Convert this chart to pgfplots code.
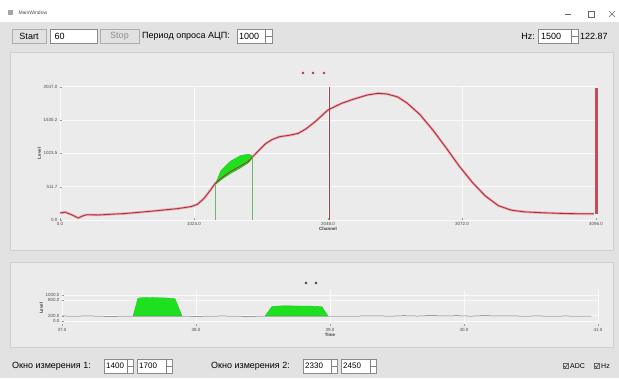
\documentclass[border=0pt]{standalone}
\usepackage{pgfplots}
\pgfplotsset{compat=1.18}
\usepackage{fontspec}
\setmainfont{Liberation Sans}
\definecolor{winbg}{HTML}{E2E2E2}
\definecolor{panelbg}{HTML}{EBEBEB}
\definecolor{panelbd}{HTML}{CFCFCF}
\definecolor{gridc}{HTML}{FAFAFA}
\definecolor{curvered}{HTML}{A82A38}
\definecolor{curvepink}{HTML}{EBA5AE}
\definecolor{markred}{HTML}{B03A46}
\definecolor{bargreen}{HTML}{1FE01F}
\definecolor{basegray}{HTML}{66707A}
\definecolor{btnbg}{HTML}{E1E1E1}
\definecolor{btnbd}{HTML}{ADADAD}
\definecolor{fieldbd}{HTML}{8A8A8A}
\newcommand{\ui}{\fontsize{9}{10}\selectfont}
\begin{document}
\begin{tikzpicture}[x=1pt,y=1pt]
\useasboundingbox (0,0) rectangle (619,378);
\fill[winbg] (0,0) rectangle (619,378);
% title bar
\fill[white] (0,356) rectangle (619,378);
\fill[gray!70] (8,363) rectangle (13,368);
\node[anchor=west,font=\fontsize{5}{6}\selectfont,text=black!70] at (15,365.5) {MainWindow};
\draw[black!60,line width=0.5] (565,364) -- (571,364);
\draw[black!60,line width=0.5] (588,361) rectangle (594,367);
\draw[black!60,line width=0.5] (609,361) -- (615,367) (609,367) -- (615,361);
% toolbar
\fill[btnbg] (12,335) rectangle (46,349);
\draw[btnbd,line width=0.5] (12,335) rectangle (46,349);
\node[font=\ui] at (29,342) {Start};
\fill[white] (50,335) rectangle (97,349);
\draw[fieldbd,line width=0.5] (50,335) rectangle (97,349);
\node[anchor=west,font=\ui] at (51,342) {60};
\fill[btnbg] (100,335) rectangle (139,349);
\draw[btnbd,line width=0.5] (100,335) rectangle (139,349);
\node[font=\ui,text=black!45] at (119.5,342) {Stop};
\node[anchor=west,font=\ui,inner sep=1pt] at (141,342) {Период опроса АЦП:};
\fill[white] (237,335) rectangle (272,349);
\draw[fieldbd,line width=0.5] (237,335) rectangle (272,349);
\node[anchor=west,font=\ui,inner sep=1pt] at (238,342) {1000};
\draw[black!50,line width=0.4] (265,335) -- (265,349) (265,342) -- (272,342);
\node[anchor=east,font=\ui,inner sep=1pt] at (536,342) {Hz:};
\fill[white] (538,335) rectangle (578,349);
\draw[fieldbd,line width=0.5] (538,335) rectangle (578,349);
\node[anchor=west,font=\ui,inner sep=1pt] at (540,342) {1500};
\draw[black!50,line width=0.4] (571,335) -- (571,349) (571,342) -- (578,342);
\node[anchor=west,font=\ui,inner sep=1pt] at (579,342) {122.87};
% panels
\fill[panelbg] (10,128) rectangle (613,326);
\draw[panelbd,line width=0.5] (10,128) rectangle (613,326);
\fill[panelbg] (10,31) rectangle (613,116);
\draw[panelbd,line width=0.5] (10,31) rectangle (613,116);
% bottom controls
\node[anchor=west,font=\ui,inner sep=1pt] at (11,12) {Окно измерения 1:};
\fill[white] (104,5) rectangle (133,19);
\draw[fieldbd,line width=0.5] (104,5) rectangle (133,19);
\node[anchor=west,font=\fontsize{8}{9}\selectfont,inner sep=1pt] at (105,12) {1400};
\draw[black!50,line width=0.4] (127,5) -- (127,19) (127,12) -- (133,12);
\fill[white] (137,5) rectangle (172,19);
\draw[fieldbd,line width=0.5] (137,5) rectangle (172,19);
\node[anchor=west,font=\fontsize{8}{9}\selectfont,inner sep=1pt] at (138,12) {1700};
\draw[black!50,line width=0.4] (166,5) -- (166,19) (166,12) -- (172,12);
\node[anchor=west,font=\ui,inner sep=1pt] at (210,12) {Окно измерения 2:};
\fill[white] (303,5) rectangle (337,19);
\draw[fieldbd,line width=0.5] (303,5) rectangle (337,19);
\node[anchor=west,font=\fontsize{8}{9}\selectfont,inner sep=1pt] at (304,12) {2330};
\draw[black!50,line width=0.4] (331,5) -- (331,19) (331,12) -- (337,12);
\fill[white] (341,5) rectangle (376,19);
\draw[fieldbd,line width=0.5] (341,5) rectangle (376,19);
\node[anchor=west,font=\fontsize{8}{9}\selectfont,inner sep=1pt] at (342,12) {2450};
\draw[black!50,line width=0.4] (370,5) -- (370,19) (370,12) -- (376,12);
\draw[black!60,line width=0.4] (563,9.5) rectangle (568,14.5);
\draw[black!80,line width=0.5] (564,12) -- (565.5,10.5) -- (567.5,13.8);
\node[anchor=west,font=\fontsize{7}{8}\selectfont,inner sep=1pt] at (569,12) {ADC};
\draw[black!60,line width=0.4] (594,9.5) rectangle (599,14.5);
\draw[black!80,line width=0.5] (595,12) -- (596.5,10.5) -- (598.5,13.8);
\node[anchor=west,font=\fontsize{7}{8}\selectfont,inner sep=1pt] at (600,12) {Hz};
% dots
\foreach \xx in {303,313,324} \fill[markred] (\xx,305) circle (1.4);
\foreach \xx in {306,316} \fill[black!75] (\xx,95) circle (1.3);
% ---------- top axis ----------
\begin{axis}[at={(60pt,158pt)},anchor=south west,scale only axis,
  width=536pt,height=133.3pt,
  xmin=0,xmax=4096,ymin=0,ymax=2047,clip=false,
  axis line style={draw=none},
  axis background/.style={fill=panelbg},
  grid=major,grid style={gridc,line width=0.9pt},
  xtick pos=bottom,ytick pos=left,
  major tick length=1.5pt,tick style={black!40,line width=0.3pt},
  xtick={0,1024,2048,3072,4096},
  xticklabels={0.0,1024.0,2048.0,3072.0,4096.0},
  ytick={0,511.75,1023.5,1535.25,2047},
  yticklabels={0.0,511.7,1023.5,1535.2,2047.0},
  /pgf/number format/assume math mode=true,
  ticklabel style={font=\fontsize{4.5}{5}\selectfont,text=black!70},
  xticklabel style={yshift=1pt},
  yticklabel style={xshift=1pt},
  xlabel={Channel},ylabel={Level},
  label style={font=\fontsize{4.5}{5}\selectfont\bfseries,text=black!75},
  xlabel style={yshift=5pt},
  ylabel style={yshift=-4pt},
]
\addplot[curvepink,line width=2.4pt,line join=round] coordinates {
(0,107) (40,120) (90,80) (140,30) (170,60) (200,80) (300,78) (500,100) (700,135) (900,175) (1000,205) (1050,240) (1100,330) (1150,460) (1185,560) (1230,640) (1300,740) (1380,830) (1440,900) (1467,960) (1520,1070) (1570,1170) (1620,1235) (1680,1280) (1750,1300) (1820,1330) (1880,1400) (1950,1510) (2048,1690) (2150,1790) (2250,1860) (2350,1920) (2430,1945) (2500,1935) (2580,1890) (2650,1800) (2750,1620) (2850,1380) (2950,1110) (3050,830) (3150,580) (3250,370) (3350,220) (3450,150) (3550,125) (3700,110) (3850,100) (4000,95) (4080,95)};
\addplot[fill=bargreen,draw=bargreen!80!black,line width=0.3pt] coordinates {
(1185,540) (1230,760) (1300,900) (1380,990) (1440,1010) (1467,990) (1467,950) (1440,880) (1380,800) (1300,710) (1230,615) (1185,540)} -- cycle;
\addplot[curvered,line width=0.8pt,line join=round] coordinates {
(0,107) (40,120) (90,80) (140,30) (170,60) (200,80) (300,78) (500,100) (700,135) (900,175) (1000,205) (1050,240) (1100,330) (1150,460) (1185,560) (1230,640) (1300,740) (1380,830) (1440,900) (1467,960) (1520,1070) (1570,1170) (1620,1235) (1680,1280) (1750,1300) (1820,1330) (1880,1400) (1950,1510) (2048,1690) (2150,1790) (2250,1860) (2350,1920) (2430,1945) (2500,1935) (2580,1890) (2650,1800) (2750,1620) (2850,1380) (2950,1110) (3050,830) (3150,580) (3250,370) (3350,220) (3450,150) (3550,125) (3700,110) (3850,100) (4000,95) (4080,95)};
\addplot[black!45!green!60,line width=0.4pt] coordinates {(1185,0) (1185,560)};
\addplot[black!45!green!60,line width=0.4pt] coordinates {(1467,0) (1467,960)};
\addplot[markred,line width=0.8pt] coordinates {(2060,0) (2060,2047)};
\addplot[curvered!75!pink,line width=3.5pt] coordinates {(4100,92) (4100,2030)};
\end{axis}
% ---------- bottom axis ----------
\begin{axis}[at={(62pt,52pt)},anchor=south west,scale only axis,
  width=536pt,height=36pt,
  xmin=37,xmax=41,ymin=-190,ymax=1190,
  axis line style={draw=none},
  axis background/.style={fill=panelbg},
  grid=major,grid style={gridc,line width=0.9pt},
  xtick pos=bottom,ytick pos=left,
  major tick length=1.5pt,tick style={black!40,line width=0.3pt},
  xtick={37,38,39,40,41},
  xticklabels={37.0,38.0,39.0,40.0,41.0},
  ytick={0,200,800,1000},
  yticklabels={0.0,200.0,800.0,1000.0},
  /pgf/number format/assume math mode=true,
  ticklabel style={font=\fontsize{4.5}{5}\selectfont,text=black!70},
  xticklabel style={yshift=1pt},
  yticklabel style={xshift=1pt},
  xlabel={Time},ylabel={Level},
  label style={font=\fontsize{4.5}{5}\selectfont\bfseries,text=black!75},
  xlabel style={yshift=5pt},
  ylabel style={yshift=-4pt},
]
\addplot[fill=bargreen,draw=bargreen!85!black,line width=0.3pt] coordinates {
(37.53,190) (37.567,880) (37.62,905) (37.70,895) (37.78,885) (37.843,860) (37.896,190)} -- cycle;
\addplot[fill=bargreen,draw=bargreen!85!black,line width=0.3pt] coordinates {
(38.515,190) (38.567,560) (38.65,585) (38.75,578) (38.85,572) (38.94,555) (38.985,190)} -- cycle;
\addplot[basegray,line width=0.5pt] coordinates {
(37.00,195) (37.10,190) (37.20,198) (37.30,185) (37.38,175) (37.45,192) (37.53,190) (37.90,190) (38.00,180) (38.10,188) (38.20,196) (38.30,186) (38.40,180) (38.515,190) (38.985,190) (39.05,192) (39.15,186) (39.25,196) (39.35,200) (39.45,188) (39.55,205) (39.65,192) (39.75,210) (39.85,196) (39.95,205) (40.05,190) (40.15,208) (40.25,195) (40.35,200) (40.45,188) (40.55,198) (40.65,185) (40.75,195) (40.85,190) (40.95,192)};
\end{axis}
\end{tikzpicture}
\end{document}
